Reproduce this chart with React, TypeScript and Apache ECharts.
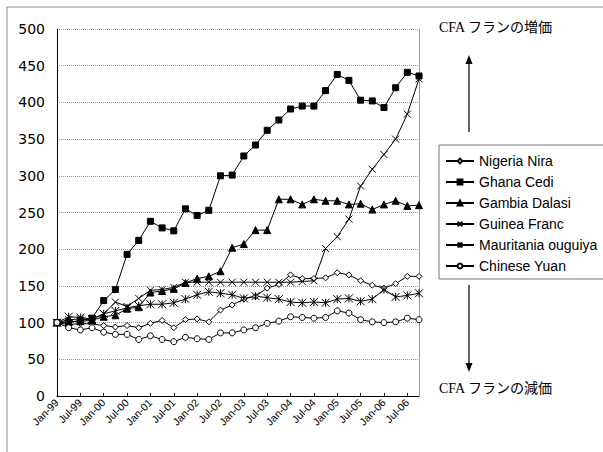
import React, { useEffect, useRef } from "react";
import * as echarts from "echarts";

const categories = [
  "Jan-99", "Apr-99", "Jul-99", "Oct-99", "Jan-00", "Apr-00", "Jul-00", "Oct-00",
  "Jan-01", "Apr-01", "Jul-01", "Oct-01", "Jan-02", "Apr-02", "Jul-02", "Oct-02",
  "Jan-03", "Apr-03", "Jul-03", "Oct-03", "Jan-04", "Apr-04", "Jul-04", "Oct-04",
  "Jan-05", "Apr-05", "Jul-05", "Oct-05", "Jan-06", "Apr-06", "Jul-06", "Oct-06",
];

const nigeriaNira = [100, 97, 99, 98, 96, 94, 96, 93, 99, 103, 93, 104, 105, 101, 117, 124, 132, 136, 147, 152, 165, 160, 160, 161, 168, 165, 157, 151, 147, 153, 163, 163];
const ghanaCedi = [100, 100, 103, 106, 130, 145, 193, 212, 238, 229, 225, 255, 246, 253, 300, 301, 327, 342, 362, 376, 391, 395, 395, 416, 438, 430, 403, 402, 393, 420, 441, 436];
const gambiaDalasi = [100, 101, 102, 103, 108, 110, 119, 121, 141, 143, 146, 154, 160, 163, 170, 202, 207, 226, 226, 268, 268, 261, 268, 266, 266, 261, 262, 254, 261, 266, 259, 260];
const guineaFranc = [100, 104, 105, 104, 112, 128, 122, 133, 144, 145, 148, 155, 155, 155, 155, 155, 155, 155, 155, 155, 155, 156, 157, 201, 217, 241, 286, 309, 329, 350, 384, 432];
const mauritaniaOuguiya = [100, 108, 107, 105, 112, 116, 120, 123, 125, 125, 127, 132, 138, 142, 140, 138, 133, 136, 134, 132, 128, 127, 128, 127, 132, 133, 129, 132, 145, 135, 137, 140];
const chineseYuan = [100, 93, 90, 93, 87, 84, 84, 77, 82, 77, 74, 80, 78, 77, 86, 86, 90, 93, 99, 102, 108, 107, 106, 107, 116, 113, 104, 101, 100, 101, 106, 104];

const seriesNames = ["Nigeria Nira", "Ghana Cedi", "Gambia Dalasi", "Guinea Franc", "Mauritania ouguiya", "Chinese Yuan"];
const yTicks = { min: 0, max: 500, interval: 50 };
const noteUp = "CFA フランの増価";
const noteDown = "CFA フランの減価";

const X_PATH = "path://M0,0L10,10M10,0L0,10";
const AST_PATH = "path://M0,0L10,10M10,0L0,10M5,0L5,10";

export default function App() {
  const ref = useRef<HTMLDivElement>(null);
  useEffect(() => {
    if (!ref.current) return;
    const chart = echarts.init(ref.current, undefined, { renderer: "svg" });
    const line = { color: "#000", width: 1 };
    const mk = (name: string, data: number[], symbol: string, size: number, open: boolean) => ({
      name,
      type: "line",
      data,
      symbol,
      symbolSize: size,
      showAllSymbol: true,
      lineStyle: line,
      itemStyle: open
        ? { color: "#fff", borderColor: "#000", borderWidth: 1 }
        : { color: "#000", borderColor: "#000", borderWidth: 1 },
      emphasis: { disabled: true },
    });
    chart.setOption({
      animation: false,
      backgroundColor: "#fff",
      grid: { left: 57, top: 29, right: 184, bottom: 56, containLabel: false },
      xAxis: {
        type: "category",
        data: categories,
        boundaryGap: false,
        axisLine: { lineStyle: { color: "#000", width: 1 } },
        axisTick: { show: true, inside: true, length: 3, interval: 1, lineStyle: { color: "#000" } },
        axisLabel: {
          interval: 1,
          rotate: 45,
          fontSize: 10.5,
          fontFamily: "Liberation Sans",
          color: "#000",
          margin: 5,
        },
        splitLine: { show: false },
      },
      yAxis: [
        {
          type: "value",
          min: yTicks.min,
          max: yTicks.max,
          interval: yTicks.interval,
          axisLine: { show: true, lineStyle: { color: "#000", width: 1 } },
          axisTick: { show: false },
          axisLabel: { fontSize: 14, fontFamily: "DejaVu Sans", color: "#000", margin: 12 },
          splitLine: { show: true, lineStyle: { color: "#999", type: "dotted", width: 1 } },
        },
        {
          type: "value",
          position: "right",
          min: yTicks.min,
          max: yTicks.max,
          interval: yTicks.interval,
          axisLine: { show: true, lineStyle: { color: "#999", width: 1 } },
          axisTick: { show: false },
          axisLabel: { show: false },
          splitLine: { show: false },
        },
      ],
      legend: {
        orient: "vertical",
        left: 439,
        top: 145,
        padding: [9, 40, 6, 6],
        itemGap: 7,
        itemWidth: 28,
        itemHeight: 6,
        borderColor: "#777",
        borderWidth: 1,
        backgroundColor: "#fff",
        textStyle: { fontSize: 14, fontFamily: "Liberation Sans", color: "#000" },
        data: seriesNames,
      },
      series: [
        mk(seriesNames[0], nigeriaNira, "diamond", 6, true),
        mk(seriesNames[1], ghanaCedi, "rect", 6, false),
        mk(seriesNames[2], gambiaDalasi, "triangle", 7, false),
        mk(seriesNames[3], guineaFranc, X_PATH, 7, false),
        mk(seriesNames[4], mauritaniaOuguiya, AST_PATH, 8, false),
        mk(seriesNames[5], chineseYuan, "circle", 6, true),
      ],
      graphic: [
        {
          type: "rect",
          shape: { x: 7, y: 7, width: 700, height: 600 },
          style: { fill: "none", stroke: "#8c8c8c", lineWidth: 1 },
          silent: true,
        },
        {
          type: "text",
          x: 439,
          y: 27,
          style: {
            text: noteUp,
            fontSize: 14,
            fontFamily: "Liberation Serif, Noto Sans CJK JP",
            fill: "#000",
            verticalAlign: "middle",
          },
        },
        {
          type: "text",
          x: 439,
          y: 388,
          style: {
            text: noteDown,
            fontSize: 14,
            fontFamily: "Liberation Serif, Noto Sans CJK JP",
            fill: "#000",
            verticalAlign: "middle",
          },
        },
        { type: "line", shape: { x1: 469, y1: 63, x2: 469, y2: 132 }, style: { stroke: "#000", lineWidth: 1.2 } },
        { type: "polygon", shape: { points: [[469, 55], [465.5, 64], [472.5, 64]] }, style: { fill: "#000" } },
        { type: "line", shape: { x1: 469, y1: 285, x2: 469, y2: 364 }, style: { stroke: "#000", lineWidth: 1.2 } },
        { type: "polygon", shape: { points: [[469, 372], [465.5, 363], [472.5, 363]] }, style: { fill: "#000" } },
      ],
    });
    return () => chart.dispose();
  }, []);
  return (
    <div
      ref={ref}
      style={{ position: "absolute", left: 0, top: 0, width: 603, height: 452, overflow: "hidden" }}
    />
  );
}
